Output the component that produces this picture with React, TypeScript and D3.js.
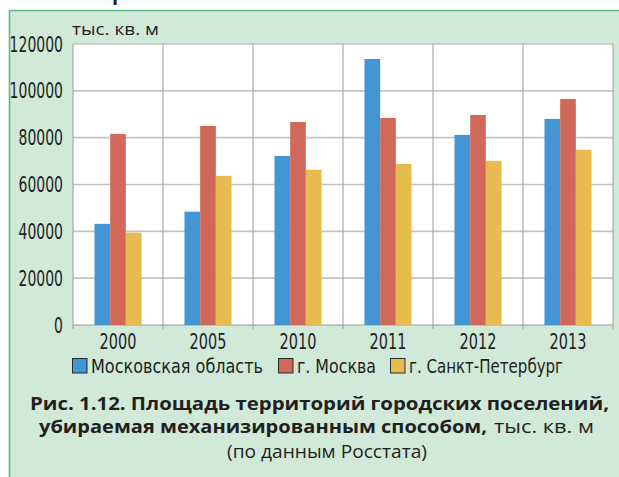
import { useEffect, useRef } from 'react';
import { scaleBand, scaleLinear, select } from 'd3';

const years = ['2000', '2005', '2010', '2011', '2012', '2013'];
const seriesNames = ['Московская область', 'г. Москва', 'г. Санкт-Петербург'];
const moscowRegion = [43200, 48400, 72200, 113600, 81200, 88000];
const moscowCity = [81600, 85000, 86700, 88400, 89700, 96500];
const stPetersburg = [39400, 63700, 66300, 68800, 70100, 74800];
const yTicks = [0, 20000, 40000, 60000, 80000, 100000, 120000];
const colors = ['#4396d3', '#d0695a', '#e8bb50'];
const unitLabel = 'тыс. кв. м';
const captionLine1 = 'Рис. 1.12. Площадь территорий городских поселений,';
const captionLine2Bold = 'убираемая механизированным способом,';
const captionLine2Rest = 'тыс. кв. м';
const captionLine3 = '(по данным Росстата)';

const W = 619;
const H = 477;
const plot = { left: 73, top: 44, right: 613, bottom: 325 };
const textColor = '#231f20';
const narrow = '"DejaVu Sans Condensed", "Liberation Sans Narrow", sans-serif';
const regular = '"Open Sans", "Noto Sans", sans-serif';
const digitW = 8.9;

export default function App() {
  const svgRef = useRef<SVGSVGElement | null>(null);

  useEffect(() => {
    const el = svgRef.current;
    if (!el) return;
    const svg = select(el);
    svg.selectAll('*').remove();

    const values = [moscowRegion, moscowCity, stPetersburg];

    const x = scaleBand<string>().domain(years).range([plot.left, plot.right]).padding(0);
    const inner = scaleBand<string>().domain(seriesNames).range([0, x.bandwidth()]).paddingInner(0).paddingOuter(1.37);
    const y = scaleLinear().domain([0, 120000]).range([plot.bottom, plot.top]);

    svg.append('rect').attr('width', W).attr('height', H).attr('fill', '#ffffff');

    // fragment of the previous line above the frame
    svg.append('text').attr('x', 112).attr('y', 0).attr('font-family', regular).attr('font-weight', 700)
      .attr('font-size', 20).attr('fill', textColor).text('р');

    // green panel
    svg.append('rect').attr('x', 9).attr('y', 10).attr('width', W - 9).attr('height', H - 10).attr('fill', '#d0e9d9');
    svg.append('path').attr('d', `M9.5,${H} V10.5 H${W}`).attr('fill', 'none').attr('stroke', '#5cbb8a').attr('stroke-width', 1.6);

    // plot area
    svg.append('rect').attr('x', plot.left).attr('y', plot.top)
      .attr('width', plot.right - plot.left).attr('height', plot.bottom - plot.top).attr('fill', '#ffffff');

    svg.append('g').selectAll('line').data(yTicks.slice(1)).join('line')
      .attr('x1', plot.left).attr('x2', plot.right)
      .attr('y1', (d) => y(d)).attr('y2', (d) => y(d))
      .attr('stroke', '#c4c4c4').attr('stroke-width', 1.6);

    const bounds = years.map((d) => x(d) as number).concat(plot.right);
    svg.append('g').selectAll('line').data(bounds).join('line')
      .attr('x1', (d) => d).attr('x2', (d) => d)
      .attr('y1', plot.top).attr('y2', plot.bottom + 4)
      .attr('stroke', '#9a9a9a').attr('stroke-width', 1);

    svg.append('line').attr('x1', plot.left).attr('x2', plot.right).attr('y1', plot.bottom).attr('y2', plot.bottom)
      .attr('stroke', '#9a9a9a').attr('stroke-width', 1.2);

    // bars
    values.forEach((series, si) => {
      svg.append('g').selectAll('rect').data(series).join('rect')
        .attr('x', (_, i) => (x(years[i]) as number) + (inner(seriesNames[si]) as number))
        .attr('width', inner.bandwidth())
        .attr('y', (d) => y(d))
        .attr('height', (d) => plot.bottom - y(d))
        .attr('fill', colors[si]);
    });

    // y labels
    svg.append('g').selectAll('text').data(yTicks).join('text')
      .attr('x', 63).attr('y', (d) => y(d) + 7.5)
      .attr('text-anchor', 'end').attr('font-family', narrow).attr('font-size', 21).attr('fill', textColor)
      .attr('textLength', (d) => String(d).length * digitW).attr('lengthAdjust', 'spacingAndGlyphs')
      .text((d) => String(d));

    // x labels
    svg.append('g').selectAll('text').data(years).join('text')
      .attr('x', (d) => (x(d) as number) + x.bandwidth() / 2).attr('y', 348.5)
      .attr('text-anchor', 'middle').attr('font-family', narrow).attr('font-size', 21).attr('fill', textColor)
      .attr('textLength', (d) => d.length * 9.2).attr('lengthAdjust', 'spacingAndGlyphs')
      .text((d) => d);

    svg.append('text').attr('x', 72).attr('y', 35).attr('font-family', regular).attr('font-size', 17)
      .attr('textLength', 87).attr('lengthAdjust', 'spacingAndGlyphs').attr('fill', textColor).text(unitLabel);

    // legend
    const legendX = [72, 278, 390];
    const legendW = [172, 79, 154];
    const legend = svg.append('g').selectAll('g').data(seriesNames).join('g')
      .attr('transform', (_, i) => `translate(${legendX[i]},358)`);
    legend.append('rect').attr('x', 0.5).attr('y', 0.5).attr('width', 14.5).attr('height', 14.5)
      .attr('fill', (_, i) => colors[i]).attr('stroke', '#2b2b2b').attr('stroke-width', 1);
    legend.append('text').attr('x', 19).attr('y', 15).attr('font-family', narrow).attr('font-size', 19.5)
      .attr('textLength', (_, i) => legendW[i]).attr('lengthAdjust', 'spacingAndGlyphs')
      .attr('fill', textColor).text((d) => d);

    // caption
    svg.append('text').attr('x', 30).attr('y', 410).attr('font-family', regular).attr('font-weight', 700)
      .attr('font-size', 18).attr('textLength', 579).attr('lengthAdjust', 'spacingAndGlyphs')
      .attr('fill', textColor).text(captionLine1);
    svg.append('text').attr('x', 39).attr('y', 433).attr('font-family', regular).attr('font-weight', 700)
      .attr('font-size', 18).attr('textLength', 448).attr('lengthAdjust', 'spacingAndGlyphs')
      .attr('fill', textColor).text(captionLine2Bold);
    svg.append('text').attr('x', 494).attr('y', 433).attr('font-family', regular)
      .attr('font-size', 18).attr('textLength', 100).attr('lengthAdjust', 'spacingAndGlyphs')
      .attr('fill', textColor).text(captionLine2Rest);
    svg.append('text').attr('x', 227).attr('y', 458).attr('font-family', regular)
      .attr('font-size', 18).attr('textLength', 200).attr('lengthAdjust', 'spacingAndGlyphs')
      .attr('fill', textColor).text(captionLine3);
  }, []);

  return (
    <svg
      ref={svgRef}
      width={W}
      height={H}
      style={{ position: 'absolute', left: 0, top: 0, display: 'block' }}
    />
  );
}
